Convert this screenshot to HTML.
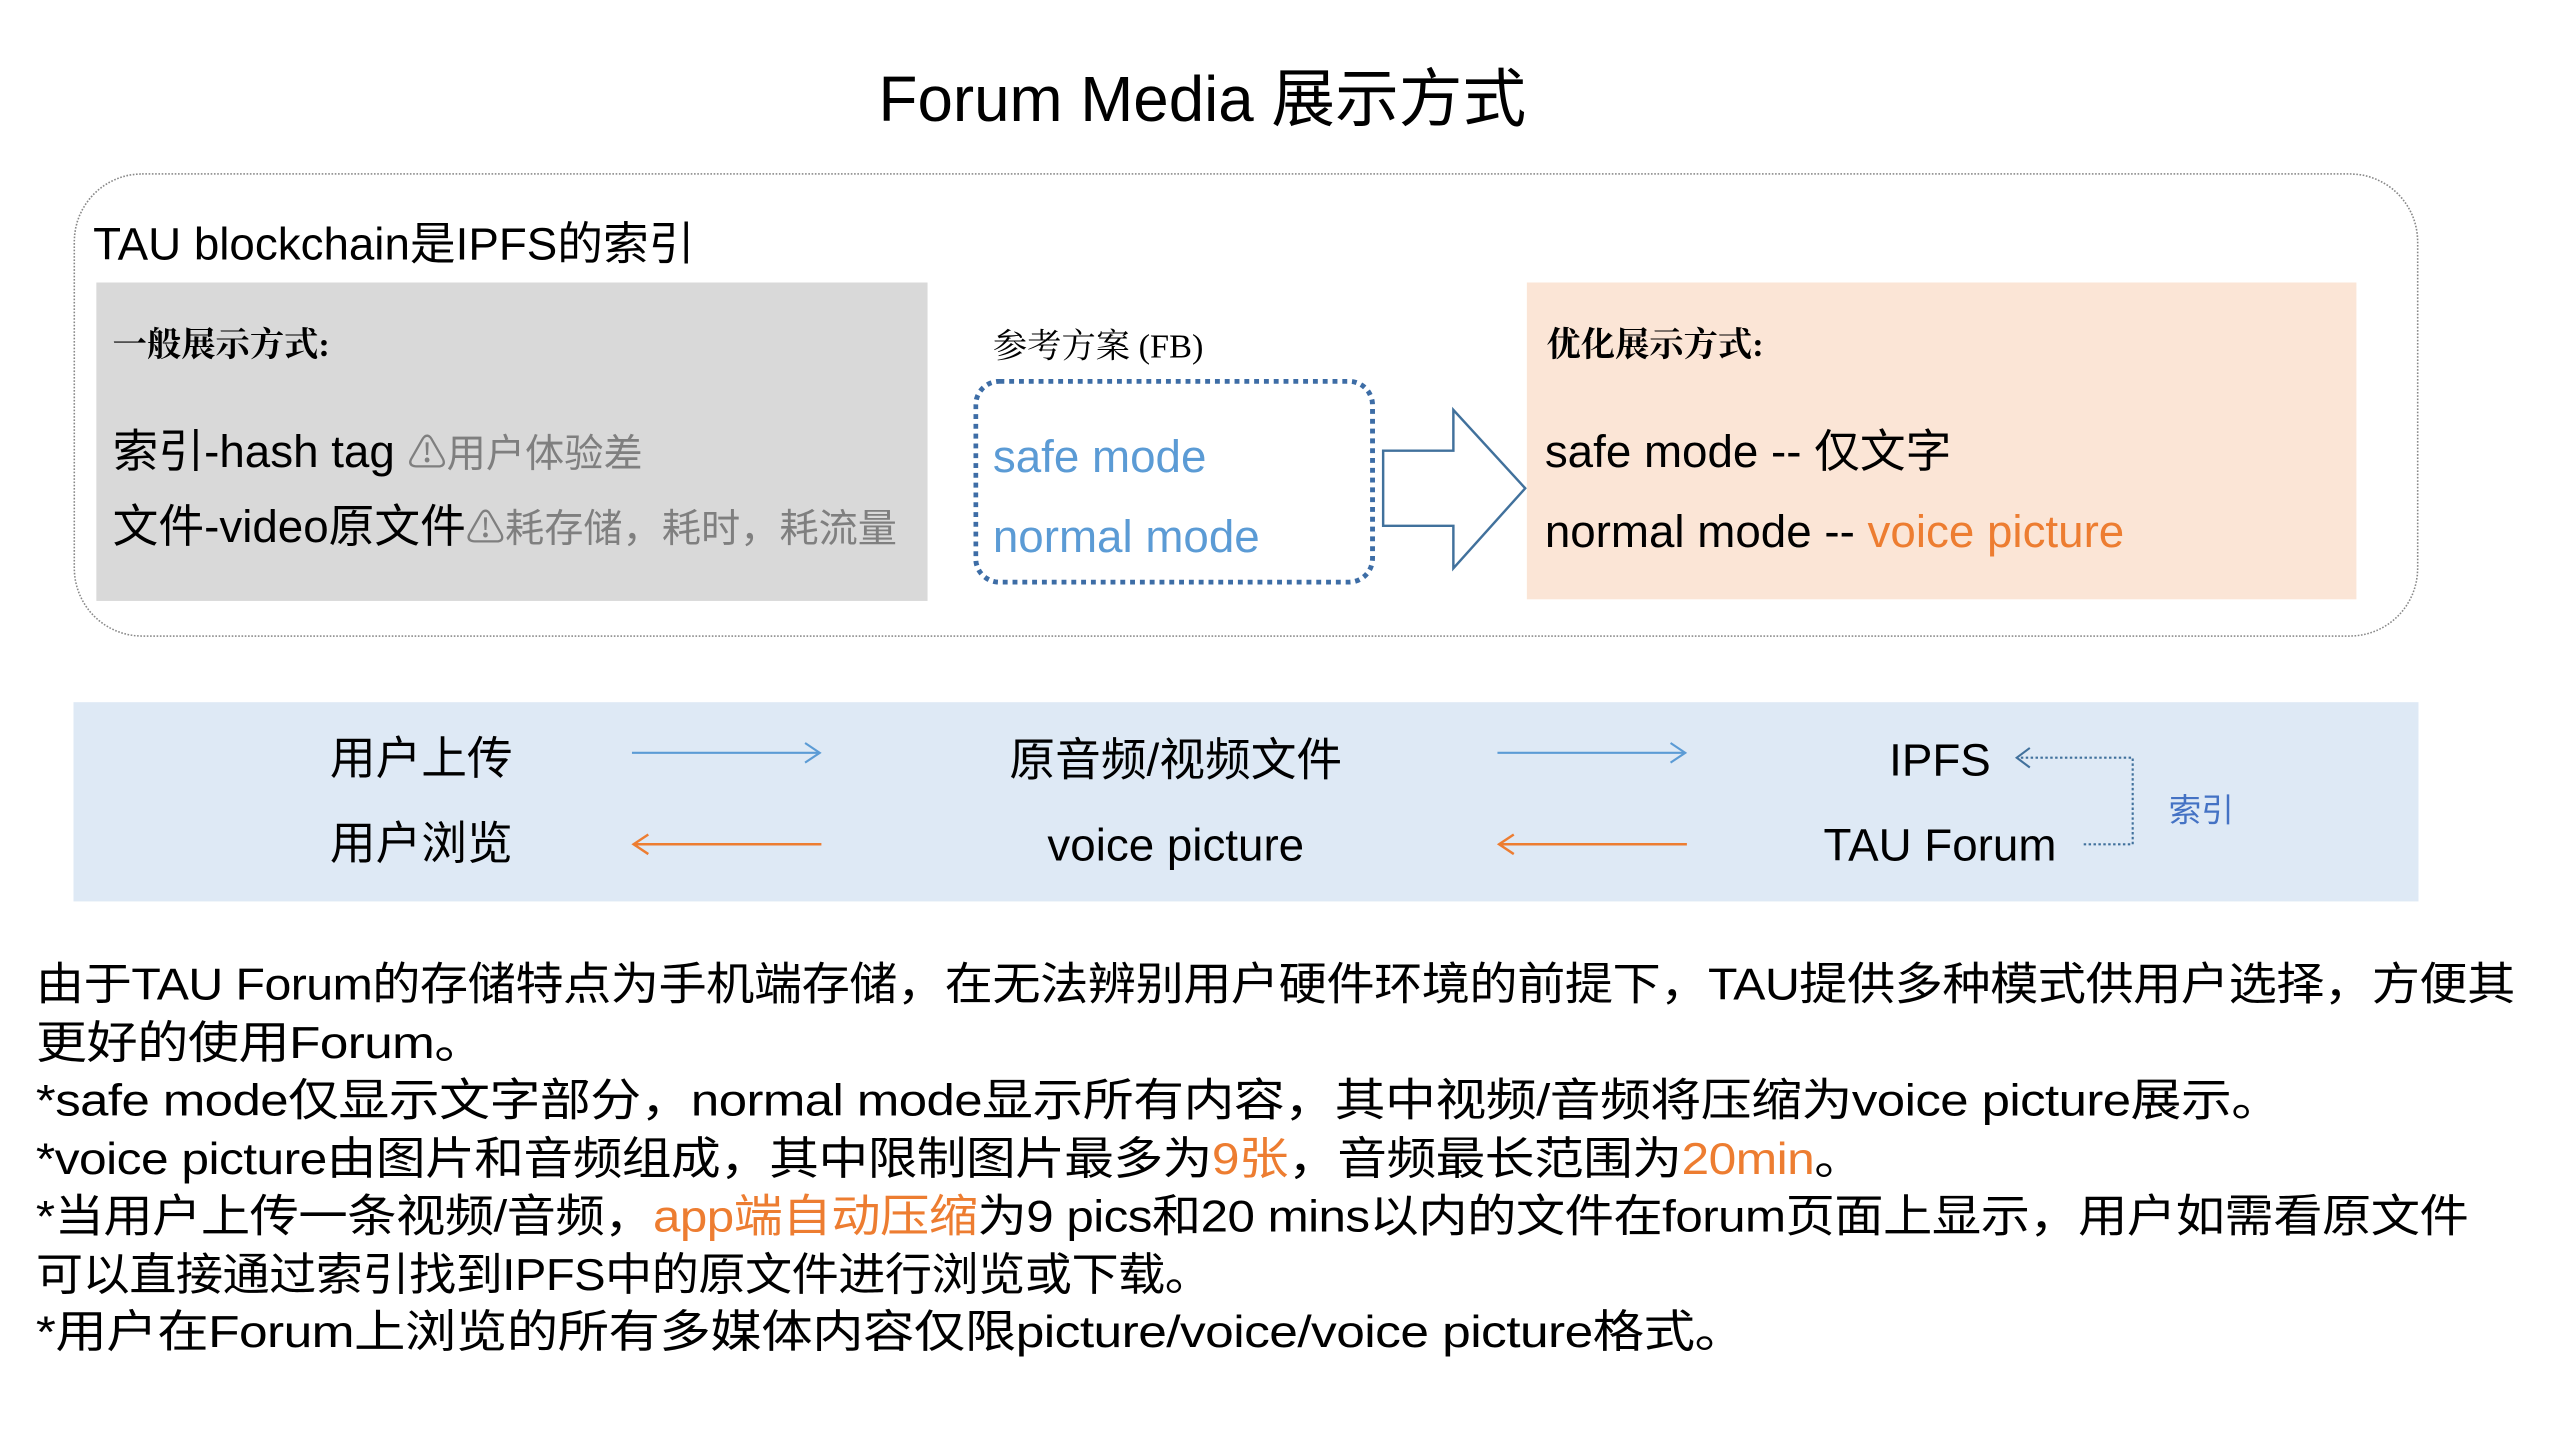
<!DOCTYPE html>
<html><head><meta charset="utf-8"><style>
html,body{margin:0;padding:0;background:#fff;width:2560px;height:1440px;overflow:hidden}
#w{position:absolute;left:0;top:0;width:1570px;height:882px;transform:scale(1.633);transform-origin:0 0;font-family:"Liberation Sans","Noto Sans CJK SC",sans-serif;color:#000}
.t{position:absolute;white-space:nowrap;line-height:1}
.s{font-family:"Liberation Serif","Noto Serif CJK SC",serif;font-weight:bold}
.o{color:#ed7d31}
.g{color:#7f7f7f}
.b{color:#5b9bd5}
.l{display:block;height:35.5px;transform-origin:0 50%}
</style></head><body><div id="w">
<div class="t" style="left:538px;top:42px;font-size:39px">Forum Media 展示方式</div>
<div style="position:absolute;left:45px;top:106px;width:1434px;height:282px;border:1.5px dotted #888;border-radius:42px"></div>
<div class="t" style="left:57px;top:136px;font-size:28px">TAU blockchain是IPFS的索引</div>
<div style="position:absolute;left:59px;top:173px;width:509px;height:195px;background:#d9d9d9"></div>
<div class="t s" style="left:69px;top:201px;font-size:21px">一般展示方式:</div>
<div class="t" style="left:69px;top:263px;font-size:28px">索引-hash tag <span class="g" style="font-size:24px">⚠用户体验差</span></div>
<div class="t" style="left:69px;top:309px;font-size:28px">文件-video原文件<span class="g" style="font-size:24px">⚠耗存储，耗时，耗流量</span></div>
<div class="t" style="left:608px;top:202px;font-size:21px;font-family:'Liberation Serif','Noto Serif CJK SC',serif">参考方案 (FB)</div>
<div style="position:absolute;left:596px;top:232px;width:240px;height:120px;border:3px dotted #3d6da6;border-radius:16px"></div>
<div class="t b" style="left:608px;top:266px;font-size:28px">safe mode</div>
<div class="t b" style="left:608px;top:315px;font-size:28px">normal mode</div>
<svg style="position:absolute;left:0;top:0" width="1570" height="882">
<polygon points="847,276 890,276 890,251 934,299 890,348 890,322 847,322" fill="#fff" stroke="#41719c" stroke-width="1.5"/>
</svg>
<div style="position:absolute;left:935px;top:173px;width:508px;height:194px;background:#fbe5d6"></div>
<div class="t s" style="left:947px;top:201px;font-size:21px">优化展示方式:</div>
<div class="t" style="left:946px;top:263px;font-size:28px">safe mode -- 仅文字</div>
<div class="t" style="left:946px;top:312px;font-size:28px">normal mode -- <span class="o">voice picture</span></div>
<div style="position:absolute;left:45px;top:430px;width:1436px;height:122px;background:#dee9f5"></div>
<svg style="position:absolute;left:0;top:0" width="1570" height="882">
<line x1="387" y1="461" x2="502" y2="461" stroke="#5b9bd5" stroke-width="1.3"/>
<polyline points="493,455 502,461 493,467" fill="none" stroke="#5b9bd5" stroke-width="1.3"/>
<line x1="917" y1="461" x2="1032" y2="461" stroke="#5b9bd5" stroke-width="1.3"/>
<polyline points="1023,455 1032,461 1023,467" fill="none" stroke="#5b9bd5" stroke-width="1.3"/>
<line x1="388" y1="517" x2="503" y2="517" stroke="#ed7d31" stroke-width="1.5"/>
<polyline points="397,511 388,517 397,523" fill="none" stroke="#ed7d31" stroke-width="1.5"/>
<line x1="918" y1="517" x2="1033" y2="517" stroke="#ed7d31" stroke-width="1.5"/>
<polyline points="927,511 918,517 927,523" fill="none" stroke="#ed7d31" stroke-width="1.5"/>
<polyline points="1276,517 1306,517 1306,464 1236,464" fill="none" stroke="#41719c" stroke-width="1.3" stroke-dasharray="1.5,1.5"/>
<polyline points="1243,458 1235,464 1243,470" fill="none" stroke="#41719c" stroke-width="1.3"/>
</svg>
<div class="t" style="left:158px;top:451px;width:200px;text-align:center;font-size:28px">用户上传</div>
<div class="t" style="left:158px;top:503px;width:200px;text-align:center;font-size:28px">用户浏览</div>
<div class="t" style="left:570px;top:452px;width:300px;text-align:center;font-size:28px">原音频/视频文件</div>
<div class="t" style="left:570px;top:504px;width:300px;text-align:center;font-size:28px">voice picture</div>
<div class="t" style="left:1088px;top:452px;width:200px;text-align:center;font-size:28px">IPFS</div>
<div class="t" style="left:1088px;top:504px;width:200px;text-align:center;font-size:28px">TAU Forum</div>
<div class="t" style="left:1328px;top:487px;font-size:20px;color:#4472c4">索引</div>
<div style="position:absolute;left:22px;top:585px;font-size:27.5px;line-height:35.5px;white-space:nowrap;letter-spacing:-0.3px">
<span class="l" style="transform:scaleX(1.074)">由于TAU Forum的存储特点为手机端存储，在无法辨别用户硬件环境的前提下，TAU提供多种模式供用户选择，方便其</span>
<span class="l" style="transform:scaleX(1.14)">更好的使用Forum。</span>
<span class="l" style="transform:scaleX(1.134)">*safe mode仅显示文字部分，normal mode显示所有内容，其中视频/音频将压缩为voice picture展示。</span>
<span class="l" style="transform:scaleX(1.107)">*voice picture由图片和音频组成，其中限制图片最多为<span class="o">9张</span>，音频最长范围为<span class="o">20min</span>。</span>
<span class="l" style="transform:scaleX(1.098)">*当用户上传一条视频/音频，<span class="o">app端自动压缩</span>为9 pics和20 mins以内的文件在forum页面上显示，用户如需看原文件</span>
<span class="l" style="transform:scaleX(1.05)">可以直接通过索引找到IPFS中的原文件进行浏览或下载。</span>
<span class="l" style="transform:scaleX(1.146)">*用户在Forum上浏览的所有多媒体内容仅限picture/voice/voice picture格式。</span>
</div>
</div></body></html>
